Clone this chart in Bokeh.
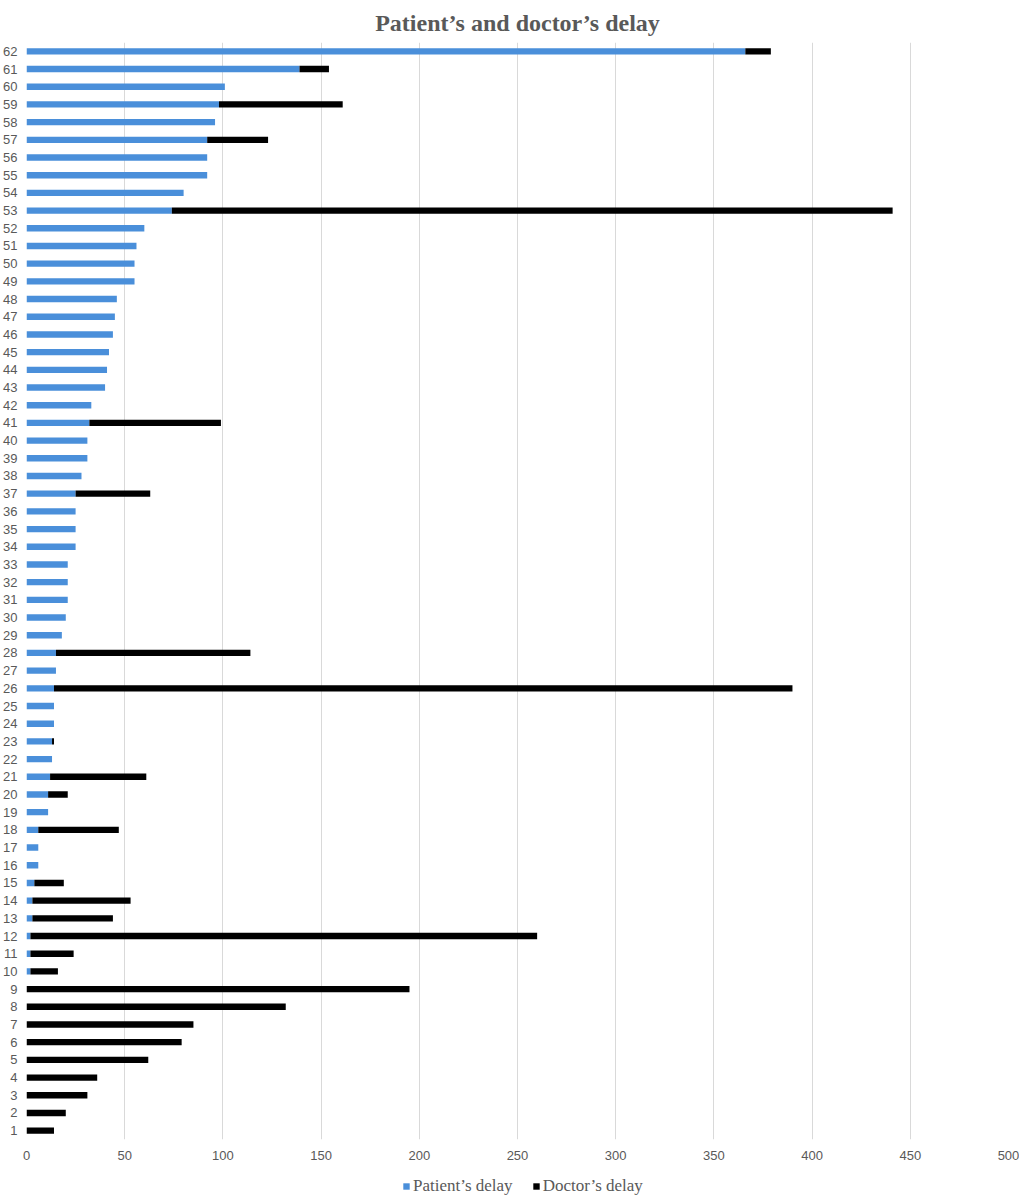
from bokeh.plotting import figure
from bokeh.layouts import column
from bokeh.models import FactorRange, Range1d, Legend, LegendItem, ColumnDataSource, FixedTicker
from bokeh.embed import file_html
from bokeh.resources import INLINE

cases = [str(i) for i in range(1, 63)]
patient = [0, 0, 0, 0, 0, 0, 0, 0, 0, 2,
           2, 2, 3, 3, 4, 6, 6, 6, 11, 11,
           12, 13, 13, 14, 14, 14, 15, 15, 18, 20,
           21, 21, 21, 25, 25, 25, 25, 28, 31, 31,
           32, 33, 40, 41, 42, 44, 45, 46, 55, 55,
           56, 60, 74, 80, 92, 92, 92, 96, 98, 101,
           139, 366]
doctor = [14, 20, 31, 36, 62, 79, 85, 132, 195, 14,
          22, 258, 41, 50, 15, 0, 0, 41, 0, 10,
          49, 0, 1, 0, 0, 376, 0, 99, 0, 0,
          0, 0, 0, 0, 0, 0, 38, 0, 0, 0,
          67, 0, 0, 0, 0, 0, 0, 0, 0, 0,
          0, 0, 367, 0, 0, 0, 31, 0, 63, 0,
          15, 13]
series_names = ["Patient’s delay", "Doctor’s delay"]
x_ticks = [0, 50, 100, 150, 200, 250, 300, 350, 400, 450, 500]

BLUE = "#4A8FDA"
BLACK = "#000000"
GREY = "#595959"

source = ColumnDataSource(data=dict(case=cases, patient=patient, doctor=doctor))

p = figure(y_range=FactorRange(factors=cases, range_padding=0),
           x_range=Range1d(0, 500),
           frame_width=982, frame_height=1097,
           output_backend="svg", toolbar_location=None,
           title="Patient’s and doctor’s delay",
           min_border_left=0, min_border_right=11, min_border_top=0, min_border_bottom=0)

renderers = p.hbar_stack(["patient", "doctor"], y="case", height=0.36,
                         color=[BLUE, BLACK], line_width=0, source=source)

p.title.align = "center"
p.title.text_font = "Liberation Serif"
p.title.text_font_size = "24px"
p.title.text_font_style = "bold"
p.title.text_color = GREY
p.title.standoff = 14

p.outline_line_color = None
p.ygrid.grid_line_color = None
p.xgrid.grid_line_color = "#D9D9D9"
p.xgrid.grid_line_width = 1
p.xaxis.ticker = FixedTicker(ticks=x_ticks)

for ax in (p.xaxis, p.yaxis):
    ax.axis_label = None
    ax.axis_label_standoff = 0
    ax.axis_line_color = None
    ax.major_tick_line_color = None
    ax.minor_tick_line_color = None
    ax.major_tick_out = 0
    ax.major_tick_in = 0
    ax.minor_tick_out = 0
    ax.minor_tick_in = 0
    ax.major_label_text_font = "Liberation Sans"
    ax.major_label_text_font_size = "13px"
    ax.major_label_text_color = GREY
p.yaxis.major_label_standoff = 9
p.xaxis.major_label_standoff = 11

# legend strip below the chart (proxy glyphs lie outside its visible range)
p2 = figure(width=1012, height=34, x_range=Range1d(0, 1), y_range=Range1d(0, 1),
            output_backend="svg", toolbar_location=None,
            x_axis_location=None, y_axis_location=None,
            min_border_left=0, min_border_right=0, min_border_top=0, min_border_bottom=0)
p2.outline_line_color = None
p2.grid.grid_line_color = None
proxy = ColumnDataSource(data=dict(y=[-10], left=[-10], right=[-9]))
lr1 = p2.hbar(y="y", left="left", right="right", height=0.5, color=BLUE, line_width=0, source=proxy)
lr2 = p2.hbar(y="y", left="left", right="right", height=0.5, color=BLACK, line_width=0, source=proxy)

legend = Legend(items=[LegendItem(label=series_names[0], renderers=[lr1]),
                       LegendItem(label=series_names[1], renderers=[lr2])],
                orientation="horizontal", location=(376, 0),
                label_text_font="Liberation Serif", label_text_font_size="17px",
                label_text_color=GREY, glyph_width=8, glyph_height=8,
                label_height=18, label_standoff=3, spacing=19, border_line_color=None,
                background_fill_alpha=0, padding=2, margin=0)
p2.add_layout(legend, "center")

layout = column(p, p2, spacing=0)
open("out.html", "w").write(file_html(layout, INLINE))
